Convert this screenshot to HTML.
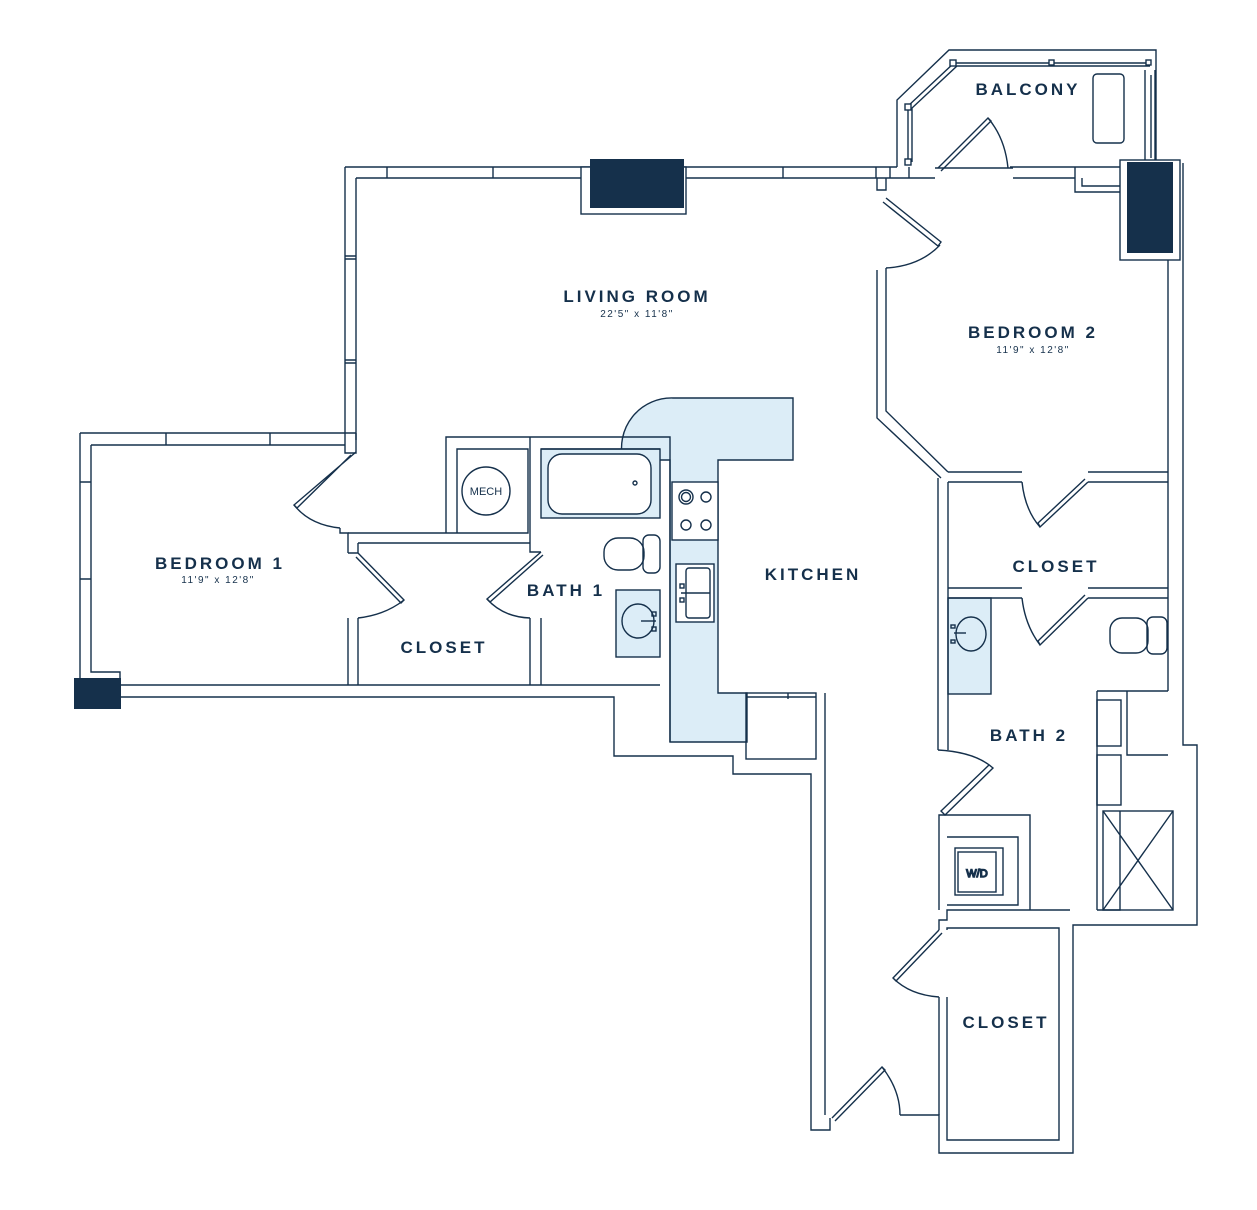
<!DOCTYPE html>
<html><head><meta charset="utf-8"><style>
html,body{margin:0;padding:0;background:#fff}
svg{display:block}
text{font-family:"Liberation Sans",sans-serif;fill:#15304b}
.l{font-weight:bold;font-size:17px;letter-spacing:3px;text-anchor:middle}
.d{font-size:10px;letter-spacing:1.5px;text-anchor:middle}
</style></head><body>
<svg width="1257" height="1210" viewBox="0 0 1257 1210" xmlns="http://www.w3.org/2000/svg">
<g fill="none" stroke="#15304b" stroke-width="1.4">
<path d="M673,398 H793 V460 H718 V693 H747 V742 H670 V460 H623 A50,50 0 0 1 673,398 Z" fill="#dcedf7"/>
<rect x="672" y="482" width="46" height="58" fill="#fff"/>
<rect x="541" y="449" width="119" height="69" fill="#dcedf7"/>
<rect x="616" y="590" width="44" height="67" fill="#dcedf7"/>
<rect x="948" y="598" width="43" height="96" fill="#dcedf7"/>

<path d="M345,167 H590 M684,167 H897 M356,178 H581 M686,178 H935"/>
<path d="M387,167V178 M493,167V178 M685,167V178 M783,167V178 M876,167V178 M890,167V178 M909,167V178"/>
<rect x="581" y="167" width="105" height="47" fill="#fff"/>
<rect x="590" y="159" width="94" height="49" fill="#15304b" stroke="none"/>
<path d="M345,167 V440 M356,178 V440 M345,256H356 M345,259H356 M345,360H356 M345,363H356"/>
<path d="M80,433 H356 M91,445 H345 M345,440V453 H356 V433 M80,433 V680 M91,445 V672 H120 V685"/>
<path d="M166,433V445 M270,433V445 M80,482H91 M80,579H91"/>
<rect x="74" y="678" width="47" height="31" fill="#15304b" stroke="none"/>
<path d="M121,685 H660 M121,697 H614 V756 H733 V774 H811 V1130 H830 V1118"/>
<path d="M356,452 L294,505 L297,508 L351,455" />
<path d="M294,505 Q310,525 340,528"/>
<path d="M340,528 V533 H348 V543 M348,553 V543"/>
<path d="M348,533 H446 M358,543 H530 M348,553 H358 V543 M348,618 V685 M358,618 V685 M358,553 L404,600 L401,603 L356,557"/>
<path d="M404,600 Q385,615 358,618"/>
<path d="M446,533 V437 H670 V742 M457,533 V449 H528 V533 H446 M530,437 V552 H541 M541,449 H660 M530,618 V685 M541,618 V685"/>
<circle cx="486" cy="491" r="24"/>
<rect x="548" y="454" width="103" height="60" rx="14" fill="#fff"/>
<circle cx="635" cy="483" r="2"/>
<path d="M541,552 L487,599 L490,602 L543,555"/>
<path d="M487,599 Q503,617 530,618"/>
<rect x="604" y="538" width="40" height="32" rx="14"/>
<rect x="643" y="535" width="17" height="38" rx="6"/>
<ellipse cx="638" cy="621" rx="16" ry="17"/>
<path d="M641,621 H656"/>
<rect x="652" y="612" width="4" height="4"/><rect x="652" y="627" width="4" height="4"/>
<circle cx="686" cy="497" r="7"/><circle cx="686" cy="497" r="4.5"/><circle cx="706" cy="497" r="5"/>
<circle cx="686" cy="525" r="5"/><circle cx="706" cy="525" r="5"/>
<rect x="676" y="564" width="38" height="58" fill="#fff"/>
<rect x="686" y="568" width="24" height="50" rx="3"/>
<path d="M686,593 H710 M681,593 H696"/>
<rect x="680" y="584" width="4" height="4"/><rect x="680" y="598" width="4" height="4"/>
<rect x="746" y="693" width="70" height="66"/>
<path d="M746,697 H816 M788,693V699 M825,693 V1115"/>
<path d="M832,1118 L882,1067 L885,1070 L835,1121"/>
<path d="M882,1067 Q900,1090 900,1115"/>
<path d="M900,1115 H939 V1153 H1073 V925 H1197 V745 H1183 V163 M947,1115 V1140 H1059 V928 H947 V930"/>
<path d="M939,997 V1115 M947,997 V1115 M939,930 L893,978 L896,981 L942,933 M893,978 Q910,995 939,997"/>
<path d="M939,930 V920 H947 V910 H1070 M939,910 V815 H947"/>
<path d="M947,815 H1030 V910 M947,837 H1018 V905 H947"/>
<rect x="955" y="848" width="48" height="47"/>
<rect x="958" y="852" width="38" height="40"/>
<text x="977" y="877" style="font-size:11px;text-anchor:middle">W/D</text>
<path d="M938,750 Q975,752 993,768 L945,815 L941,811 L989,765"/>
<path d="M938,750 V478 M948,750 V482"/>
<path d="M1097,691 H1168 M1097,691 V910 M1127,691 V755 H1168"/>
<rect x="1097" y="700" width="24" height="46"/><rect x="1097" y="755" width="24" height="50"/>
<rect x="1103" y="811" width="70" height="99"/>
<path d="M1103,811 L1173,910 M1173,811 L1103,910 M1097,910 H1120 V811"/>
<rect x="1110" y="618" width="38" height="35" rx="12"/>
<rect x="1147" y="617" width="20" height="37" rx="6"/>
<ellipse cx="971" cy="634" rx="15" ry="17"/>
<path d="M954,633 H966"/>
<rect x="951" y="625" width="4" height="3"/><rect x="951" y="640" width="4" height="3"/>
<path d="M948,472 H1022 M948,482 H1022 M1088,472 H1168 M1088,482 H1168 M948,588 H1022 M948,598 H1022 M1088,588 H1168 M1088,598 H1168"/>
<path d="M1088,482 L1040,527 L1038,523 L1085,479 M1022,482 Q1025,510 1040,527"/>
<path d="M1088,598 L1040,645 L1038,641 L1085,595 M1022,598 Q1025,625 1040,645"/>
<path d="M1168,260 V691"/>
<path d="M877,270 V418 L941,478 M886,268 V411 L948,472"/>
<path d="M886,198 L941,242 L938,246 L883,202 M886,268 Q920,266 940,245 M877,178 V190 H886 V178"/>
<path d="M897,167 V100 L949,50 H1156 V163 M935,168 H1013 M1010,167 H1128 M1013,178 H1075 M1075,167 V192 H1128 M1082,178 V186 H1128"/>
<path d="M908,162 V106 L954,63 H1150 M912,162 V108 L957,66 H1150 M1145,70 V160 M1155,70 V160 M1151,75 V158"/>
<rect x="905" y="159" width="6" height="6" fill="#fff"/><rect x="905" y="104" width="6" height="6" fill="#fff"/>
<rect x="950" y="60" width="6" height="6" fill="#fff"/><rect x="1049" y="60" width="5" height="5" fill="#fff"/><rect x="1146" y="60" width="5" height="5" fill="#fff"/>
<rect x="1093" y="74" width="31" height="69" rx="4"/>
<path d="M938,168 L988,118 L991,121 L941,171 M988,118 Q1005,138 1008,168"/>
<rect x="1120" y="160" width="60" height="100" fill="#fff"/>
<rect x="1127" y="162" width="46" height="91" fill="#15304b" stroke="none"/>
</g>
<text class="l" x="637" y="302">LIVING ROOM</text>
<text class="d" x="637" y="317">22'5" x 11'8"</text>
<text class="l" x="1033" y="338">BEDROOM 2</text>
<text class="d" x="1033" y="353">11'9" x 12'8"</text>
<text class="l" x="220" y="569">BEDROOM 1</text>
<text class="d" x="218" y="583">11'9" x 12'8"</text>
<text class="l" x="1028" y="95">BALCONY</text>
<text class="l" x="444" y="653">CLOSET</text>
<text class="l" x="566" y="596">BATH 1</text>
<text class="l" x="813" y="580">KITCHEN</text>
<text class="l" x="1056" y="572">CLOSET</text>
<text class="l" x="1029" y="741">BATH 2</text>
<text class="l" x="1006" y="1028">CLOSET</text>
<text x="486" y="495" style="font-size:11px;text-anchor:middle">MECH</text>
</svg>
</body></html>
